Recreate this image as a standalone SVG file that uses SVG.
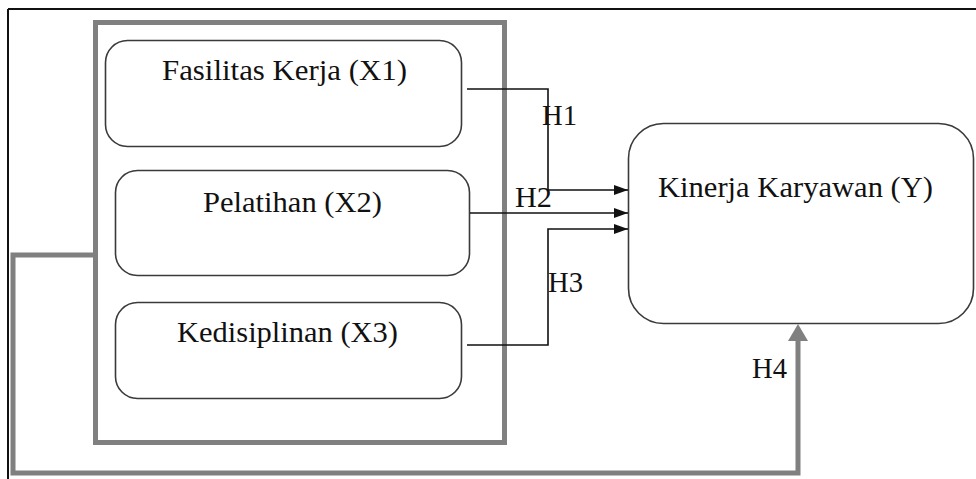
<svg xmlns="http://www.w3.org/2000/svg" width="976" height="479" viewBox="0 0 976 479">
<style>
.box{fill:#fff;stroke:#3a3a3a;stroke-width:1.6}
text{font-family:'Liberation Serif','Times New Roman','DejaVu Serif',serif;font-size:29px;fill:#111}
.c{fill:none;stroke:#111;stroke-width:1.6}
.g{fill:none;stroke:#808080;stroke-width:5}
</style>
<defs>
<marker id="ah" markerWidth="14" markerHeight="10" refX="14" refY="5" orient="auto" markerUnits="userSpaceOnUse">
<path d="M0,0 L14,5 L0,10 Z" fill="#111"/>
</marker>
</defs>
<rect width="976" height="479" fill="#fff"/>
<g id="frame">
<line x1="8" y1="9" x2="976" y2="9" stroke="#111" stroke-width="2"/>
<line x1="8" y1="9" x2="8" y2="479" stroke="#111" stroke-width="2"/>
</g>
<g id="group-box">
<rect x="95.5" y="22.5" width="409" height="420" fill="none" stroke="#808080" stroke-width="5"/>
</g>
<g id="x1">
<rect class="box" x="105.5" y="40.5" width="356" height="106" rx="22"/>
<text font-family="Liberation Serif, serif" x="162" y="80" textLength="245" lengthAdjust="spacingAndGlyphs">Fasilitas Kerja (X1)</text>
</g>
<g id="x2">
<rect class="box" x="115.5" y="170.5" width="354" height="105" rx="22"/>
<text font-family="Liberation Serif, serif" x="203" y="212" textLength="179" lengthAdjust="spacingAndGlyphs">Pelatihan (X2)</text>
</g>
<g id="x3">
<rect class="box" x="115.5" y="302.5" width="346" height="96" rx="22"/>
<text font-family="Liberation Serif, serif" x="177" y="342" textLength="221" lengthAdjust="spacingAndGlyphs">Kedisiplinan (X3)</text>
</g>
<g id="y">
<rect class="box" x="628.5" y="123.5" width="345" height="200" rx="35"/>
<text font-family="Liberation Serif, serif" x="658" y="197" textLength="275" lengthAdjust="spacingAndGlyphs">Kinerja Karyawan (Y)</text>
</g>
<g id="connectors">
<polyline class="c" points="467,89 548,89 548,190 628,190" marker-end="url(#ah)"/>
<line class="c" x1="470" y1="213" x2="628" y2="213" marker-end="url(#ah)"/>
<polyline class="c" points="467,345 548,345 548,229 628,229" marker-end="url(#ah)"/>
<polyline class="g" points="95,255 13,255 13,473 798,473 798,341"/>
<path d="M788,341 L798,324 L808,341 Z" fill="#808080"/>
</g>
<g id="labels">
<text font-family="Liberation Serif, serif" x="542" y="125" textLength="35" lengthAdjust="spacingAndGlyphs">H1</text>
<text font-family="Liberation Serif, serif" x="515" y="207" textLength="37" lengthAdjust="spacingAndGlyphs">H2</text>
<text font-family="Liberation Serif, serif" x="548" y="292" textLength="35" lengthAdjust="spacingAndGlyphs">H3</text>
<text font-family="Liberation Serif, serif" x="752" y="378" textLength="35" lengthAdjust="spacingAndGlyphs">H4</text>
</g>
</svg>
